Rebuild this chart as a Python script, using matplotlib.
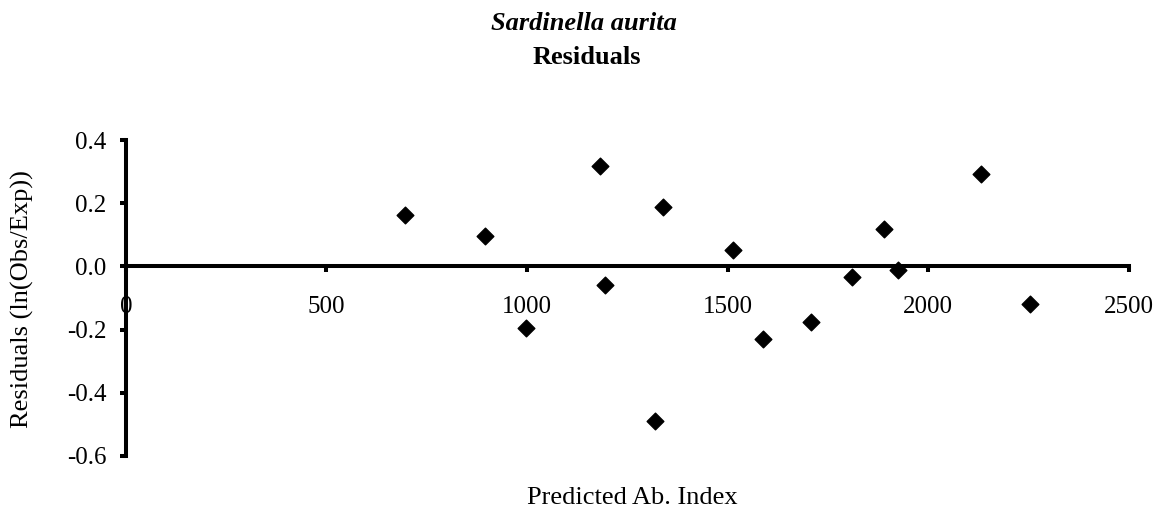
import matplotlib.pyplot as plt
import numpy as np

plt.rcParams['font.family'] = ['Liberation Serif', 'DejaVu Serif']

# predicted abundance index vs residuals
predicted = [697, 895, 997, 1182, 1194, 1320, 1338, 1513, 1588, 1707,
             1810, 1890, 1924, 2132, 2253]
residuals = [0.162, 0.096, -0.194, 0.319, -0.058, -0.490, 0.187, 0.052,
             -0.231, -0.175, -0.035, 0.120, -0.010, 0.293, -0.118]

x_ticks = [0, 500, 1000, 1500, 2000, 2500]
y_ticks = [-0.6, -0.4, -0.2, 0.0, 0.2, 0.4]

fig = plt.figure(figsize=(11.66, 5.15), dpi=100)
ax = fig.add_axes([0.108, 0.1146, 0.860, 0.6134])

ax.scatter(predicted, residuals, marker='D', s=72, color='black', zorder=3,
           clip_on=False)

ax.set_xlim(0, 2500)
ax.set_ylim(-0.6, 0.4)
ax.set_xticks(x_ticks)
ax.set_yticks(y_ticks)
ax.set_xticklabels([str(v) for v in x_ticks])
ax.set_yticklabels(['%.1f' % v for v in y_ticks])

ax.spines['bottom'].set_position(('data', 0))
ax.spines['top'].set_visible(False)
ax.spines['right'].set_visible(False)
for s in ['left', 'bottom']:
    ax.spines[s].set_linewidth(2.9)
ax.tick_params(axis='both', direction='out', length=4, width=2.9,
               labelsize=18)
ax.tick_params(axis='x', pad=17)
ax.tick_params(axis='y', pad=10)

fig.text(0.501, 0.955, 'Sardinella aurita', ha='center', va='center',
         fontsize=19, fontstyle='italic', fontweight='bold')
fig.text(0.503, 0.889, 'Residuals', ha='center', va='center',
         fontsize=19, fontweight='bold')
fig.text(0.019, 0.42, 'Residuals (ln(Obs/Exp))', rotation=90,
         ha='center', va='center', fontsize=19)
fig.text(0.542, 0.033, 'Predicted Ab. Index', ha='center', va='center',
         fontsize=19)

fig.savefig('out.png', dpi=100)
